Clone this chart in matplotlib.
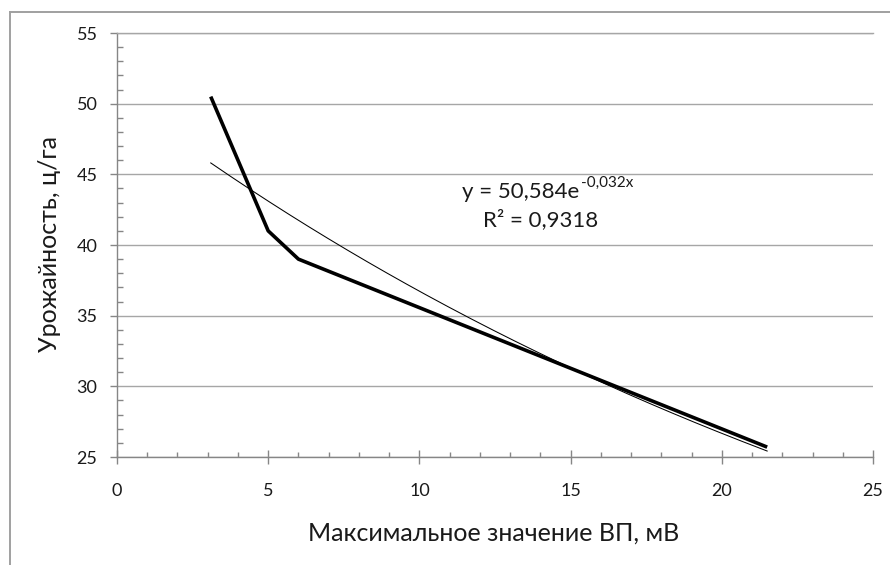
import numpy as np
import matplotlib
matplotlib.use("Agg")
import matplotlib.pyplot as plt
from matplotlib.lines import Line2D
from matplotlib.ticker import MultipleLocator

plt.rcParams['font.family'] = ['Lato', 'DejaVu Sans']

# data
vp_max = [3.1, 5.0, 6.0, 21.5]          # Максимальное значение ВП, мВ
yield_cha = [50.5, 41.0, 39.0, 25.7]    # Урожайность, ц/га
trend_a = 50.584
trend_b = -0.032
eq_base = "y = 50,584e"
eq_exp = "-0,032x"
r2_label = "R² = 0,9318"
x_label = "Максимальное значение ВП, мВ"
y_label = "Урожайность, ц/га"

fig = plt.figure(figsize=(8.9, 5.65), dpi=100)
ax = fig.add_axes([117/890, 1-457/565, 756/890, 424/565])

grid_c = '#A6A6A6'
axis_c = '#868686'
text_c = '#1a1a1a'

xt = np.linspace(min(vp_max), max(vp_max), 200)
ax.plot(xt, trend_a*np.exp(trend_b*xt), color='black', lw=0.75, zorder=3)
ax.plot(vp_max, yield_cha, color='black', lw=2.6, solid_joinstyle='round',
        solid_capstyle='butt', zorder=4)

ax.set_xlim(0, 25)
ax.set_ylim(25, 55)
ax.xaxis.set_major_locator(MultipleLocator(5))
ax.xaxis.set_minor_locator(MultipleLocator(1))
ax.yaxis.set_major_locator(MultipleLocator(5))
ax.yaxis.set_minor_locator(MultipleLocator(1))

ax.yaxis.grid(True, which='major', color=grid_c, lw=1.0)
ax.set_axisbelow(True)
ax.spines['right'].set_visible(False)
ax.spines['top'].set_color(grid_c)
ax.spines['left'].set_color(axis_c)
ax.spines['bottom'].set_color(axis_c)
for s in ('top', 'left', 'bottom'):
    ax.spines[s].set_linewidth(1.0)

ax.tick_params(axis='x', which='major', direction='inout', length=10, width=1,
               color=axis_c, pad=14, labelsize=13, labelcolor=text_c)
ax.tick_params(axis='x', which='minor', direction='in', length=3.5, width=1,
               color=axis_c)
ax.tick_params(axis='y', which='major', direction='out', length=5, width=1,
               color=axis_c, pad=9, labelsize=13, labelcolor=text_c)
ax.tick_params(axis='y', which='minor', direction='in', length=4.5, width=1,
               color=axis_c)

fig.text(494/890, 1-533/565, x_label, ha='center', va='center',
         fontsize=18, color=text_c)
fig.text(50/890, 1-244/565, y_label, ha='center', va='center',
         rotation=90, fontsize=18, color=text_c)

base = fig.text(462/890, 1-192/565, eq_base, ha='left', va='center',
                fontsize=16, color=text_c)
ax.annotate(eq_exp, xy=(1, 0.62), xycoords=base, xytext=(1, 0),
            textcoords='offset points', ha='left', va='bottom',
            fontsize=11, color=text_c)
fig.text(541/890, 1-220/565, r2_label, ha='center', va='center',
         fontsize=16, color=text_c)

# outer chart border
fig.add_artist(Line2D([9.5/890, 9.5/890], [1-12/565, 0], transform=fig.transFigure,
                      color='#A0A0A0', lw=1.4))
fig.add_artist(Line2D([9.5/890, 1], [1-12/565, 1-12/565], transform=fig.transFigure,
                      color='#A0A0A0', lw=1.4))

fig.savefig('out.png', dpi=100)
